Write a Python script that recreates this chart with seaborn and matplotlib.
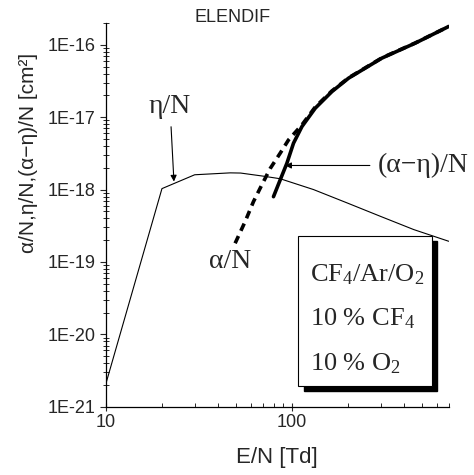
import numpy as np
import pandas as pd
import seaborn as sns
from matplotlib import pyplot as plt
from matplotlib.patches import Rectangle
from matplotlib.ticker import FuncFormatter, LogLocator, NullFormatter, FixedLocator

# eta/N (attachment), thin line
eta_en = [10, 20, 30, 46.6, 53, 70.3, 86.5, 130.6, 197.7, 299, 452, 697]
eta_val = [2.1e-21, 1.03e-18, 1.6e-18, 1.70e-18, 1.69e-18, 1.53e-18, 1.41e-18, 1.0e-18,
           6.55e-19, 4.27e-19, 2.8e-19, 1.93e-19]

# alpha/N (ionization), dashed
alpha_en = [49.5, 56.0, 62.1, 68.9, 76.4, 86.5, 95.9, 113.2, 133.5, 164, 202, 305, 461, 697]
alpha_val = [1.81e-19, 3.6e-19, 6.8e-19, 1.16e-18, 1.95e-18, 3.18e-18, 4.85e-18, 7.82e-18,
             1.38e-17, 2.3e-17, 3.5e-17, 6.6e-17, 1.06e-16, 1.79e-16]

# (alpha-eta)/N, thick solid
net_en = [79.6, 86.5, 94, 102, 113.2, 133.5, 164.2, 201.8, 305, 461, 697]
net_val = [7.97e-19, 1.36e-18, 2.31e-18, 4.37e-18, 7.41e-18, 1.33e-17, 2.26e-17, 3.46e-17,
           6.55e-17, 1.055e-16, 1.79e-16]

y_ticks = [1e-21, 1e-20, 1e-19, 1e-18, 1e-17, 1e-16]

sns.set_style("ticks")
plt.rcParams['font.family'] = ['Liberation Sans', 'DejaVu Sans']
plt.rcParams['mathtext.fontset'] = 'custom'
plt.rcParams['mathtext.rm'] = 'Liberation Serif'
plt.rcParams['mathtext.it'] = 'Liberation Serif:italic'

fig = plt.figure(figsize=(4.74, 4.75), dpi=100)
ax = fig.add_axes([0.2236, 0.1438, 0.7237, 0.8078])

sns.lineplot(x=eta_en, y=eta_val, ax=ax, color='k', lw=0.8)
sns.lineplot(x=alpha_en, y=alpha_val, ax=ax, color='k', lw=2.6, linestyle=(0, (2.2, 1.6)))
sns.lineplot(x=net_en, y=net_val, ax=ax, color='k', lw=2.6)

ax.set_xscale('log')
ax.set_yscale('log')
ax.set_xlim(10, 700)
ax.set_ylim(1e-21, 2e-16)

ax.yaxis.set_major_locator(FixedLocator(y_ticks))
ax.yaxis.set_major_formatter(FuncFormatter(lambda v, pos: '1E%d' % int(round(np.log10(v)))))
ax.yaxis.set_minor_locator(LogLocator(base=10, subs=np.arange(2, 10), numticks=20))
ax.yaxis.set_minor_formatter(NullFormatter())
ax.xaxis.set_major_formatter(FuncFormatter(lambda v, pos: '%g' % v))
ax.xaxis.set_minor_formatter(NullFormatter())

ax.tick_params(axis='y', which='major', direction='out', length=4, width=0.8, labelsize=13, pad=3.5)
ax.tick_params(axis='y', which='minor', direction='inout', length=4, width=0.7)
ax.tick_params(axis='x', which='major', direction='inout', length=6, width=0.8, labelsize=13, pad=2.5)
ax.tick_params(axis='x', which='minor', direction='in', length=3, width=0.7)

sns.despine(ax=ax)
for s in ['left', 'bottom']:
    ax.spines[s].set_linewidth(0.9)
    ax.spines[s].set_color('k')

ax.set_xlabel('E/N [Td]', fontsize=16)
ax.xaxis.set_label_coords(0.4985, -0.105)
ax.set_ylabel('α/N,η/N,(α−η)/N [cm²]', fontsize=15)
ax.yaxis.set_label_coords(-0.198, 0.6625)

fig.text(233 / 474, 1 - 17 / 475, 'ELENDIF', ha='center', va='center', fontsize=13)

serif = ['Liberation Serif', 'DejaVu Serif']
arrow = dict(arrowstyle='-|>', lw=0.8, color='k', mutation_scale=9, shrinkA=3, shrinkB=0)
ax.annotate('η/N', xy=(23.2, 1.29e-18), xytext=(22.1, 1.39e-17), ha='center', va='center',
            fontsize=20, family=serif, arrowprops=arrow)
ax.annotate('(α−η)/N', xy=(92, 2.15e-18), xytext=(288, 2.15e-18), ha='left', va='center',
            fontsize=20, family=serif, arrowprops=arrow, annotation_clip=False)
ax.text(46.6, 1.0e-19, 'α/N', ha='center', va='center', fontsize=20, family=serif)

# shadowed info box
x0, y0, w, h = 0.5607, 0.0547, 0.3889, 0.3906
ax.add_patch(Rectangle((x0 + 0.016, y0 - 0.0143), w, h, transform=ax.transAxes,
                       facecolor='k', edgecolor='k', zorder=5, clip_on=False))
ax.add_patch(Rectangle((x0, y0), w, h, transform=ax.transAxes,
                       facecolor='white', edgecolor='k', lw=0.8, zorder=6, clip_on=False))
for txt, yy in [('CF$_4$/Ar/O$_2$', 0.326), ('10 % CF$_4$', 0.213), ('10 % O$_2$', 0.0957)]:
    ax.text(0.595, yy, txt, transform=ax.transAxes, ha='left', va='baseline',
            fontsize=19, family=serif, zorder=7)

fig.savefig('out.png', dpi=100)
